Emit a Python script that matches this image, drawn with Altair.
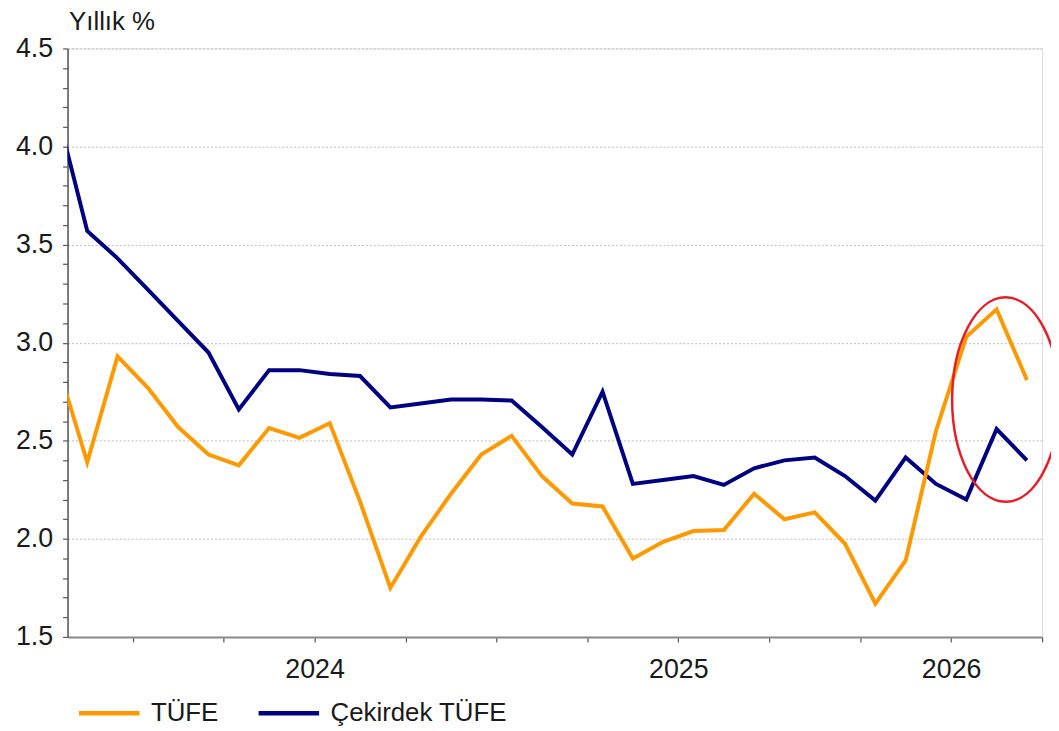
import altair as alt
import pandas as pd

# ---- data ----
months = [
    "2023-10", "2023-11", "2023-12",
    "2024-01", "2024-02", "2024-03", "2024-04", "2024-05", "2024-06",
    "2024-07", "2024-08", "2024-09", "2024-10", "2024-11", "2024-12",
    "2025-01", "2025-02", "2025-03", "2025-04", "2025-05", "2025-06",
    "2025-07", "2025-08", "2025-09", "2025-10", "2025-11", "2025-12",
    "2026-01", "2026-02", "2026-03", "2026-04", "2026-05", "2026-06",
]
tufe = [
    2.90, 2.39, 2.93,
    2.77, 2.57, 2.43, 2.375, 2.565, 2.515,
    2.59, 2.19, 1.75, 2.01, 2.23, 2.43,
    2.525, 2.32, 2.18, 2.165, 1.90, 1.985,
    2.04, 2.045, 2.23, 2.10, 2.135, 1.975,
    1.67, 1.89, 2.55, 3.03, 3.17, 2.81,
]
cekirdek = [
    4.18, 3.57, 3.43,
    3.27, 3.11, 2.95, 2.66, 2.86, 2.86,
    2.84, 2.83, 2.67, 2.69, 2.71, 2.71,
    2.705, 2.57, 2.43, 2.75, 2.28, 2.30,
    2.32, 2.275, 2.36, 2.40, 2.415, 2.32,
    2.195, 2.415, 2.28, 2.20, 2.56, 2.40,
]
series_names = ["TÜFE", "Çekirdek TÜFE"]
series_colors = ["#FF9900", "#000080"]
year_labels = ["2024", "2025", "2026"]
year_label_months = ["2024-07", "2025-07", "2026-04"]
highlight_month = "2026-05"
highlight_value = 2.71


def month_index(m, mid=True):
    y, mo = (int(p) for p in m.split("-"))
    return (y - 2024) * 12 + (mo - 1) + (0.5 if mid else 0.0)


rows = []
for m, v in zip(months, cekirdek):
    rows.append({"t": month_index(m), "value": v, "series": series_names[1], "ord": 0})
for m, v in zip(months, tufe):
    rows.append({"t": month_index(m), "value": v, "series": series_names[0], "ord": 1})
df = pd.DataFrame(rows)

x_ticks = [float(i) for i in range(0, 31, 3)]
label_map = {month_index(m, mid=False): lab for m, lab in zip(year_label_months, year_labels)}
label_expr = " : ".join(
    [f"datum.value == {k} ? '{v}'" for k, v in label_map.items()] + ["''"]
)
y_minor = [round(1.5 + 0.1 * i, 1) for i in range(31)]
is_major = "abs(datum.value*2 - round(datum.value*2)) < 0.001"

FONT = "Liberation Sans"

x_scale = alt.Scale(domain=[-2.15, 30], nice=False, zero=False)
y_scale = alt.Scale(domain=[1.5, 4.5], nice=False, zero=False)

x_enc = alt.X(
    "t:Q",
    scale=x_scale,
    axis=alt.Axis(
        values=x_ticks,
        tickCount=50,
        labelExpr=label_expr,
        title=None,
        grid=False,
        domainColor="#8a8a8a",
        domainWidth=2,
        tickColor="#555555",
        tickSize=5,
        tickWidth=1.2,
        labelFont=FONT,
        labelFontSize=27,
        labelColor="#1a1a1a",
        labelPadding=15,
        labelOverlap=False,
        labelFlush=False,
    ),
)

y_enc = alt.Y(
    "value:Q",
    scale=y_scale,
    axis=alt.Axis(
        values=y_minor,
        tickCount=100,
        labelExpr=is_major + " ? format(datum.value, '.1f') : ''",
        title="Yıllık %",
        titleAngle=0,
        titleAlign="left",
        titleBaseline="alphabetic",
        titleX=1,
        titleY=-19,
        titleFont=FONT,
        titleFontSize=26,
        titleFontWeight="normal",
        titleColor="#1a1a1a",
        grid=True,
        gridColor="#bbbbbb",
        gridDash=[2, 2],
        gridWidth=1,
        gridOpacity={"condition": {"test": is_major + " && datum.value > 1.6", "value": 1}, "value": 0},
        domainColor="#555555",
        domainWidth=1.5,
        tickColor="#555555",
        tickSize=5,
        tickWidth=1.2,
        labelFont=FONT,
        labelFontSize=27,
        labelColor="#1a1a1a",
        labelPadding=10,
        labelOverlap=False,
        labelFlush=False,
    ),
)

lines = alt.Chart(df).mark_line(strokeWidth=4, clip=True).encode(
    x=x_enc,
    y=y_enc,
    color=alt.Color(
        "series:N",
        scale=alt.Scale(domain=series_names, range=series_colors),
        legend=alt.Legend(
            title=None,
            orient="none",
            legendX=9,
            legendY=637,
            direction="horizontal",
            symbolType="stroke",
            symbolSize=3721,
            symbolStrokeWidth=4.5,
            labelFont=FONT,
            labelFontSize=26,
            labelColor="#1a1a1a",
            labelOffset=9,
            labelLimit=0,
            columnPadding=31,
            padding=0,
        ),
    ),
    order=alt.Order("ord:Q"),
)

ann_df = pd.DataFrame([{"t": month_index(highlight_month) + 0.3, "value": highlight_value}])
ellipse = alt.Chart(ann_df).mark_point(
    shape="M -0.524 0 A 0.524 1 0 1 0 0.524 0 A 0.524 1 0 1 0 -0.524 0 Z",
    size=42436,
    filled=False,
    stroke="#e3202a",
    strokeWidth=2.5,
    opacity=1,
    clip=False,
).encode(
    x=alt.X("t:Q", scale=x_scale),
    y=alt.Y("value:Q", scale=y_scale),
)

chart = (
    alt.layer(lines, ellipse)
    .properties(
        width=982,
        height=593,
        autosize=alt.AutoSizeParams(type="none"),
        padding={"left": 60, "top": 38, "right": 9, "bottom": 88},
    )
    .configure_view(strokeWidth=0)
    .configure(background="white")
)

chart.save("out.html", embed_options={"renderer": "svg", "actions": False})
